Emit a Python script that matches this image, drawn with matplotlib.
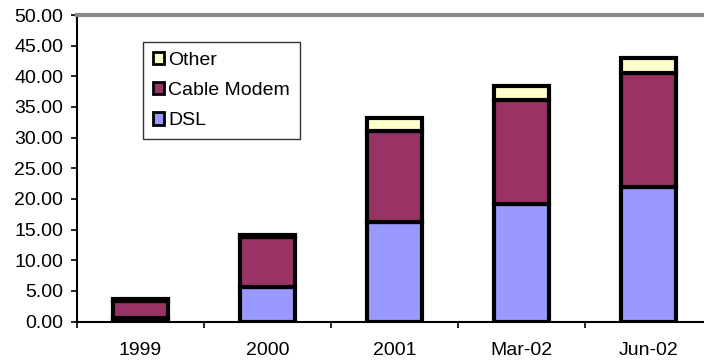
import matplotlib
matplotlib.use("Agg")
import matplotlib.pyplot as plt
from matplotlib.patches import Patch
import numpy as np

categories = ["1999", "2000", "2001", "Mar-02", "Jun-02"]
dsl = [0.6, 5.7, 16.2, 19.2, 22.0]
cable = [2.8, 8.1, 14.8, 17.0, 18.6]
other = [0.3, 0.3, 2.2, 2.2, 2.4]
yticks = [0, 5, 10, 15, 20, 25, 30, 35, 40, 45, 50]

plt.rcParams["font.family"] = ["Liberation Sans", "DejaVu Sans"]

fig = plt.figure(figsize=(7.04, 3.62), dpi=100)
ax = fig.add_axes([77 / 704, 40.5 / 362, 635 / 704, 306.5 / 362])

x = np.arange(len(categories))
w = 0.43
edge = dict(edgecolor="black", linewidth=3.0)
ax.bar(x, dsl, w, color="#9999FF", **edge, zorder=3)
ax.bar(x, cable, w, bottom=dsl, color="#993366", **edge, zorder=3)
base = np.array(dsl) + np.array(cable)
ax.bar(x, other, w, bottom=base, color="#FFFFCC", **edge, zorder=3)

ax.set_xlim(-0.5, len(categories) - 0.5)
ax.set_ylim(0, 50)
ax.set_yticks(yticks)
ax.set_yticklabels([f"{v:.2f}" for v in yticks])
ax.set_xticks(x)
ax.set_xticklabels(categories)
ax.set_xticks(np.arange(len(categories) + 1) - 0.5, minor=True)

ax.tick_params(axis="y", direction="out", length=4, width=1.2, labelsize=14, pad=6)
ax.tick_params(axis="x", which="major", length=0, labelsize=14, pad=15)
ax.tick_params(axis="x", which="minor", direction="out", length=4, width=1.2)

ax.spines["right"].set_visible(False)
ax.spines["left"].set_linewidth(1.5)
ax.spines["bottom"].set_linewidth(1.5)
ax.spines["top"].set_color("#8a8a8a")
ax.spines["top"].set_linewidth(3)

handles = [
    Patch(facecolor="#FFFFCC", edgecolor="black", linewidth=2, label="Other"),
    Patch(facecolor="#993366", edgecolor="black", linewidth=2, label="Cable Modem"),
    Patch(facecolor="#9999FF", edgecolor="black", linewidth=2, label="DSL"),
]
leg = ax.legend(handles=handles, loc="upper left", bbox_to_anchor=(66 / 635, 1 - 27 / 306.5),
                fontsize=14, frameon=True, fancybox=False, handlelength=0.6,
                handleheight=0.6, handletextpad=0.2, borderpad=0.5, labelspacing=0.68,
                borderaxespad=0)
leg.get_frame().set_edgecolor("black")
leg.get_frame().set_linewidth(1.0)
# widen the frame slightly to the right of the longest label
leg._legend_box.align = "left"

fig.canvas.draw()
fig.savefig("out.png", dpi=100)
